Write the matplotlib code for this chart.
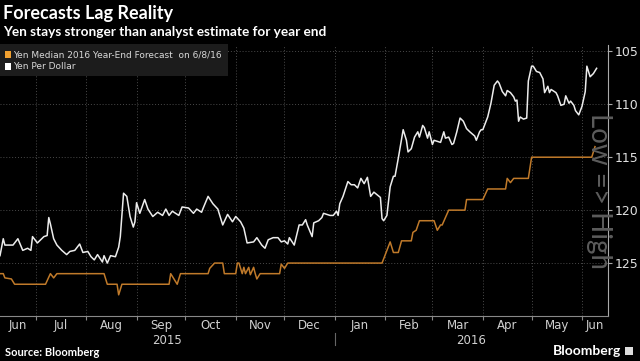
import matplotlib
matplotlib.use("Agg")
import matplotlib.pyplot as plt
import matplotlib.transforms as mtransforms
from matplotlib.patches import Rectangle
import pandas as pd

# Yen per dollar
spot_dates = [
    "2015-06-09", "2015-06-11", "2015-06-12", "2015-06-17", "2015-06-20", "2015-06-23",
    "2015-06-26", "2015-06-28", "2015-06-29", "2015-07-02", "2015-07-06", "2015-07-08",
    "2015-07-09", "2015-07-10", "2015-07-12", "2015-07-14", "2015-07-17", "2015-07-20",
    "2015-07-22", "2015-07-25", "2015-07-28", "2015-07-30", "2015-08-02", "2015-08-04",
    "2015-08-06", "2015-08-08", "2015-08-11", "2015-08-12", "2015-08-14", "2015-08-16",
    "2015-08-19", "2015-08-21", "2015-08-22", "2015-08-24", "2015-08-26", "2015-08-28",
    "2015-08-30", "2015-08-31", "2015-09-01", "2015-09-03", "2015-09-06", "2015-09-08",
    "2015-09-11", "2015-09-14", "2015-09-17", "2015-09-19", "2015-09-21", "2015-09-23",
    "2015-09-25", "2015-09-27", "2015-09-29", "2015-10-03", "2015-10-06", "2015-10-08",
    "2015-10-11", "2015-10-12", "2015-10-15", "2015-10-18", "2015-10-21", "2015-10-24",
    "2015-10-27", "2015-10-30", "2015-11-01", "2015-11-04", "2015-11-06", "2015-11-08",
    "2015-11-12", "2015-11-14", "2015-11-17", "2015-11-19", "2015-11-21", "2015-11-24",
    "2015-11-27", "2015-11-29", "2015-12-01", "2015-12-03", "2015-12-04", "2015-12-07",
    "2015-12-10", "2015-12-12", "2015-12-14", "2015-12-15", "2015-12-18", "2015-12-19",
    "2015-12-22", "2015-12-24", "2015-12-25", "2015-12-29", "2015-12-31", "2016-01-02",
    "2016-01-03", "2016-01-04", "2016-01-06", "2016-01-09", "2016-01-11", "2016-01-13",
    "2016-01-15", "2016-01-17", "2016-01-19", "2016-01-21", "2016-01-23", "2016-01-25",
    "2016-01-29", "2016-01-30", "2016-01-31", "2016-02-02", "2016-02-04", "2016-02-06",
    "2016-02-07", "2016-02-09", "2016-02-12", "2016-02-14", "2016-02-15", "2016-02-17",
    "2016-02-19", "2016-02-21", "2016-02-22", "2016-02-24", "2016-02-25", "2016-02-27",
    "2016-02-28", "2016-03-01", "2016-03-02", "2016-03-04", "2016-03-06", "2016-03-08",
    "2016-03-09", "2016-03-11", "2016-03-13", "2016-03-14", "2016-03-16", "2016-03-18",
    "2016-03-20", "2016-03-22", "2016-03-24", "2016-03-27", "2016-03-28", "2016-03-30",
    "2016-03-31", "2016-04-01", "2016-04-04", "2016-04-06", "2016-04-08", "2016-04-10",
    "2016-04-11", "2016-04-13", "2016-04-15", "2016-04-16", "2016-04-18", "2016-04-20",
    "2016-04-21", "2016-04-22", "2016-04-23", "2016-04-24", "2016-04-26", "2016-04-28",
    "2016-04-29", "2016-05-01", "2016-05-02", "2016-05-04", "2016-05-06", "2016-05-08",
    "2016-05-09", "2016-05-11", "2016-05-12", "2016-05-13", "2016-05-16", "2016-05-17",
    "2016-05-19", "2016-05-21", "2016-05-22", "2016-05-24", "2016-05-25", "2016-05-27",
    "2016-05-28", "2016-05-30", "2016-06-01", "2016-06-03", "2016-06-04", "2016-06-06",
    "2016-06-08", "2016-06-10",
]
spot_values = [
    124.3, 122.7, 123.3, 123.3, 122.7, 123.8,
    123.6, 123.8, 122.5, 123.1, 122.5, 122.4,
    120.7, 121.3, 122.7, 123.3, 123.8, 124.2,
    123.9, 123.8, 123.2, 124.0, 123.9, 124.4,
    124.7, 124.2, 124.9, 124.3, 125.0, 124.3,
    124.4, 123.5, 122.5, 118.4, 118.7, 120.6,
    121.6, 121.1, 119.3, 120.3, 119.0, 119.9,
    120.6, 120.2, 120.5, 119.9, 120.5, 120.1,
    120.3, 120.5, 119.7, 119.8, 120.3, 119.9,
    120.2, 119.8, 118.7, 119.4, 119.9, 121.4,
    120.4, 121.1, 120.6, 121.1, 121.7, 123.1,
    123.0, 122.6, 123.3, 123.6, 122.8, 122.6,
    122.6, 123.0, 122.9, 123.2, 122.6, 123.3,
    121.4, 121.4, 120.9, 121.4, 122.5, 121.2,
    121.0, 120.7, 120.3, 120.5, 120.5, 120.1,
    120.5, 119.4, 118.7, 117.3, 117.6, 117.6,
    117.9, 117.0, 117.5, 116.9, 118.7, 118.3,
    118.8, 120.8, 121.0, 120.5, 117.8, 116.8,
    116.8, 115.1, 112.4, 113.4, 114.5, 114.2,
    113.1, 112.6, 113.1, 112.0, 112.2, 113.2,
    112.6, 113.8, 113.4, 113.5, 113.6, 112.6,
    113.2, 113.1, 113.8, 113.7, 112.6, 111.3,
    111.6, 112.3, 112.6, 113.0, 113.4, 112.6,
    112.4, 112.4, 111.2, 109.9, 108.2, 107.8,
    108.0, 108.8, 109.2, 108.7, 108.9, 109.3,
    109.7, 109.6, 111.6, 111.2, 111.4, 111.3,
    107.8, 106.4, 106.4, 106.9, 107.0, 107.6,
    108.9, 108.3, 108.9, 108.6, 108.9, 109.2,
    110.1, 110.0, 109.2, 109.9, 109.7, 110.1,
    110.6, 111.0, 110.2, 108.8, 106.4, 107.4,
    107.1, 106.6,
]

# Median 2016 year-end forecast as it stood on each day
fc_dates = [
    "2015-06-09", "2015-06-11", "2015-06-12", "2015-06-16", "2015-06-18", "2015-07-07",
    "2015-07-10", "2015-07-12", "2015-07-14", "2015-08-12", "2015-08-14", "2015-08-20",
    "2015-08-21", "2015-08-23", "2015-09-21", "2015-09-22", "2015-09-24", "2015-09-26",
    "2015-09-28", "2015-10-15", "2015-10-16", "2015-10-19", "2015-10-24", "2015-10-25",
    "2015-11-01", "2015-11-02", "2015-11-03", "2015-11-05", "2015-11-06", "2015-11-07",
    "2015-11-09", "2015-11-10", "2015-11-12", "2015-11-13", "2015-11-14", "2015-11-16",
    "2015-11-28", "2015-11-29", "2015-12-01", "2015-12-03", "2016-01-30", "2016-02-04",
    "2016-02-06", "2016-02-09", "2016-02-11", "2016-02-17", "2016-02-18", "2016-02-20",
    "2016-02-22", "2016-03-02", "2016-03-04", "2016-03-06", "2016-03-07", "2016-03-11",
    "2016-03-21", "2016-03-22", "2016-04-01", "2016-04-04", "2016-04-15", "2016-04-16",
    "2016-04-18", "2016-04-20", "2016-04-29", "2016-05-01", "2016-06-07", "2016-06-09",
]
fc_values = [
    126.0, 126.0, 126.4, 126.5, 127.0, 127.0,
    126.0, 126.4, 126.0, 126.0, 127.0, 127.0,
    128.0, 127.0, 127.0, 126.0, 126.5, 127.0,
    126.0, 126.0, 125.5, 125.0, 125.0, 126.0,
    126.0, 125.0, 125.0, 126.0, 125.4, 126.0,
    125.4, 126.1, 125.4, 126.0, 126.5, 126.0,
    126.0, 125.1, 125.5, 125.0, 125.0, 123.0,
    124.0, 124.0, 122.9, 122.9, 122.1, 121.9,
    121.0, 121.0, 121.9, 121.4, 121.4, 120.0,
    120.0, 119.0, 119.0, 118.0, 118.0, 117.0,
    117.4, 117.0, 117.0, 115.0, 115.0, 114.0,
]

y_ticks = [105, 110, 115, 120, 125]
month_labels = ["Jun", "Jul", "Aug", "Sep", "Oct", "Nov", "Dec",
                "Jan", "Feb", "Mar", "Apr", "May", "Jun"]
year_labels = ["2015", "2016"]

BG = "black"
GRID = "#4a4a4a"
ORANGE = "#c07a2a"
WHITE = "#ececec"
NARROW = ["Liberation Sans Narrow", "DejaVu Sans"]

spot_x = pd.to_datetime(spot_dates)
fc_x = pd.to_datetime(fc_dates)
x0 = pd.Timestamp("2015-06-09")
x1 = pd.Timestamp("2016-06-17")

fig = plt.figure(figsize=(6.4, 3.61), dpi=100, facecolor=BG)
ax = fig.add_axes([0.0, 1 - 316 / 361, 608 / 640, (316 - 45) / 361])
ax.set_facecolor(BG)

ax.plot(fc_x, fc_values, color=ORANGE, lw=1.1, zorder=3)
ax.plot(spot_x, spot_values, color=WHITE, lw=1.1, zorder=4)

ax.set_xlim(x0, x1)
ax.set_ylim(130, 104.4)

# month boundaries carry ticks and grid, labels sit mid-month
month_starts = pd.date_range("2015-07-01", "2016-06-01", freq="MS")
ax.set_xticks(month_starts)
ax.set_xticklabels([])
edges = [x0] + list(month_starts) + [x1]
mids = [a + (b - a) / 2 for a, b in zip(edges[:-1], edges[1:])]
ax.set_xticks(mids, minor=True)
ax.set_xticklabels(month_labels, minor=True, family=NARROW)
ax.tick_params(axis="x", which="major", length=3, color="#888888", direction="out")
ax.tick_params(axis="x", which="minor", length=0, pad=2, labelsize=8.5, labelcolor="#d0d0d0")

ax.yaxis.tick_right()
ax.set_yticks(y_ticks)
ax.set_yticklabels([str(v) for v in y_ticks], family=NARROW)
ax.tick_params(axis="y", length=3, color="#aaaaaa", pad=2, labelsize=9, labelcolor="#e0e0e0")

ax.grid(True, which="major", color=GRID, ls=(0, (1, 2)), lw=0.7)
for side in ("top", "left"):
    ax.spines[side].set_visible(False)
ax.spines["right"].set_color("#aaaaaa")
ax.spines["bottom"].set_color("#888888")

# year labels under the months
trans = mtransforms.blended_transform_factory(ax.transData, fig.transFigure)
jan = pd.Timestamp("2016-01-01")
ax.text(x0 + (jan - x0) / 2, 1 - 340 / 361, year_labels[0], transform=trans,
        ha="center", va="center", fontsize=8.5, color="#d0d0d0", family=NARROW)
ax.text(jan + (x1 - jan) / 2, 1 - 340 / 361, year_labels[1], transform=trans,
        ha="center", va="center", fontsize=8.5, color="#d0d0d0", family=NARROW)
ax.plot([jan, jan], [1 - 333 / 361, 1 - 345 / 361], transform=trans,
        color="#666666", lw=0.8, clip_on=False)

# titles
fig.text(3 / 640, 1 - 14 / 361, "Forecasts Lag Reality", color="white",
         fontsize=13, fontweight="bold", family="Lato", va="center", ha="left")
fig.text(3 / 640, 1 - 32.5 / 361, "Yen stays stronger than analyst estimate for year end",
         color="white", fontsize=9.8, fontweight="bold", family="Lato", va="center", ha="left")

# legend box
fig.add_artist(Rectangle((0, 1 - 76 / 361), 228 / 640, 32 / 361, transform=fig.transFigure,
                         facecolor="#1c1c1c", edgecolor="none", zorder=5))
fig.add_artist(Rectangle((5 / 640, 1 - 58 / 361), 6 / 640, 7 / 361, transform=fig.transFigure,
                         facecolor="#f0a030", edgecolor="none", zorder=6))
fig.add_artist(Rectangle((5 / 640, 1 - 70 / 361), 6 / 640, 7 / 361, transform=fig.transFigure,
                         facecolor="white", edgecolor="none", zorder=6))
fig.text(13 / 640, 1 - 54.5 / 361, "Yen Median 2016 Year-End Forecast  on 6/8/16",
         color="#d8d8d8", fontsize=6.5, va="center", ha="left", zorder=7, family=NARROW)
fig.text(13 / 640, 1 - 66.5 / 361, "Yen Per Dollar",
         color="#d8d8d8", fontsize=6.5, va="center", ha="left", zorder=7, family=NARROW)

# direction hint on the right edge
fig.text(612 / 640, 1 - 113 / 361, "Low => High", rotation=-90, color="#5c5c5c",
         fontsize=20, family="Lato", va="top", ha="left", rotation_mode="anchor")

# footer
fig.text(5 / 640, 1 - 352 / 361, "Source: Bloomberg", color="white", fontsize=8,
         fontweight="bold", family="Lato", va="center", ha="left")
fig.text(621 / 640, 1 - 351 / 361, "Bloomberg", color="white", fontsize=10,
         fontweight="bold", family="Lato", va="center", ha="right")
fig.add_artist(Rectangle((625 / 640, 1 - 355 / 361), 8 / 640, 8 / 361, transform=fig.transFigure,
                         facecolor="#dddddd", edgecolor="none"))

fig.savefig("out.png", dpi=100, facecolor=BG)
